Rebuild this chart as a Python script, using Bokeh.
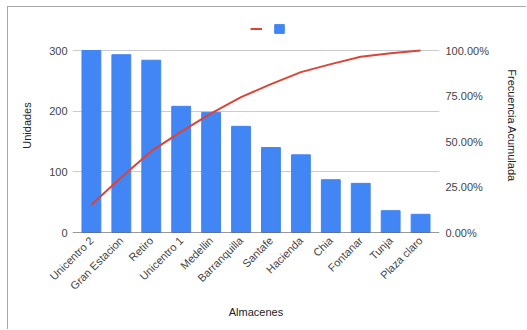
import math
from bokeh.plotting import figure
from bokeh.models import (ColumnDataSource, FactorRange, Range1d, LinearAxis, FixedTicker,
                          NumeralTickFormatter, Span, Legend, LegendItem)
from bokeh.embed import file_html
from bokeh.resources import INLINE

almacenes = ["Unicentro 2", "Gran Estacion", "Retiro", "Unicentro 1", "Medellin", "Barranquilla",
             "Santafe", "Hacienda", "Chia", "Fontanar", "Tunja", "Plaza claro"]
unidades = [300, 293, 284, 208, 198, 175, 140, 128, 87, 81, 36, 30]
frec_acum = [0.153, 0.303, 0.447, 0.554, 0.655, 0.744, 0.815, 0.881, 0.925, 0.966, 0.985, 1.0]
left_ticks = [0, 100, 200, 300]
right_ticks = [0, 0.25, 0.5, 0.75, 1.0]

FONT = "Liberation Sans"
src = ColumnDataSource(dict(x=almacenes, u=unidades, f=frec_acum))

# frame extends above the 300 line to leave room for the legend inside it
HEAD = 214.0 / 182.0
p = figure(x_range=FactorRange(*almacenes, range_padding=0.022),
           y_range=Range1d(0, 300 * HEAD),
           width=519, height=323, output_backend="svg", toolbar_location=None,
           min_border_left=64, min_border_right=88, min_border_top=11, min_border_bottom=98)
p.styles = {"margin-left": "7px", "margin-top": "6px",
            "border-left": "1px solid #a8a8a8", "border-top": "1px solid #a8a8a8"}
p.outline_line_color = None
p.extra_y_ranges = {"pct": Range1d(0, 1 * HEAD)}

bars = p.vbar(x="x", top="u", width=0.63, color="#4285F4", source=src)
line = p.line(x="x", y="f", y_range_name="pct", line_color="#DB4437", line_width=2, source=src)

p.add_layout(Span(location=0, dimension="width", line_color="#333333", line_width=1))

p.xgrid.grid_line_color = None
p.ygrid.grid_line_color = "#cccccc"
p.ygrid.ticker = FixedTicker(ticks=left_ticks)

ax = p.xaxis[0]
ax.axis_label = "Almacenes"
ax.major_label_orientation = math.pi / 4
ax.axis_line_color = None
ax.major_tick_line_color = None
ax.minor_tick_line_color = None
ax.major_tick_out = 0
ax.major_tick_in = 0
ax.major_label_text_font = FONT
ax.major_label_text_font_size = "11px"
ax.major_label_text_color = "#444444"
ax.major_label_standoff = 6
ax.axis_label_text_font = FONT
ax.axis_label_text_font_style = "normal"
ax.axis_label_text_font_size = "11px"
ax.axis_label_text_color = "#222222"
ax.axis_label_standoff = 7

ay = p.yaxis[0]
ay.axis_label = "Unidades"
ay.ticker = FixedTicker(ticks=left_ticks)

ry = LinearAxis(y_range_name="pct", axis_label="Frecuencia Acumulada",
                ticker=FixedTicker(ticks=right_ticks),
                formatter=NumeralTickFormatter(format="0.00%"))
p.add_layout(ry, "right")

for a in (ay, ry):
    a.axis_line_color = None
    a.major_tick_line_color = None
    a.minor_tick_line_color = None
    a.major_tick_out = 0
    a.major_tick_in = 0
    a.major_label_text_font = FONT
    a.major_label_text_font_size = "11px"
    a.major_label_text_color = "#444444"
    a.axis_label_text_font = FONT
    a.axis_label_text_font_style = "normal"
    a.axis_label_text_font_size = "11px"
    a.axis_label_text_color = "#222222"

ay.major_label_standoff = 5
ay.axis_label_standoff = 13
ry.major_label_standoff = 6
ry.axis_label_standoff = 14

legend = Legend(items=[LegendItem(label=" ", renderers=[line]),
                       LegendItem(label=" ", renderers=[bars])],
                orientation="horizontal", location=(178, 198),
                border_line_color=None, background_fill_alpha=0,
                glyph_width=12, glyph_height=11, label_width=1, label_standoff=0,
                label_text_font_size="8px",
                spacing=10, margin=0, padding=0)
p.add_layout(legend, "center")

open("out.html", "w").write(file_html(p, INLINE))
